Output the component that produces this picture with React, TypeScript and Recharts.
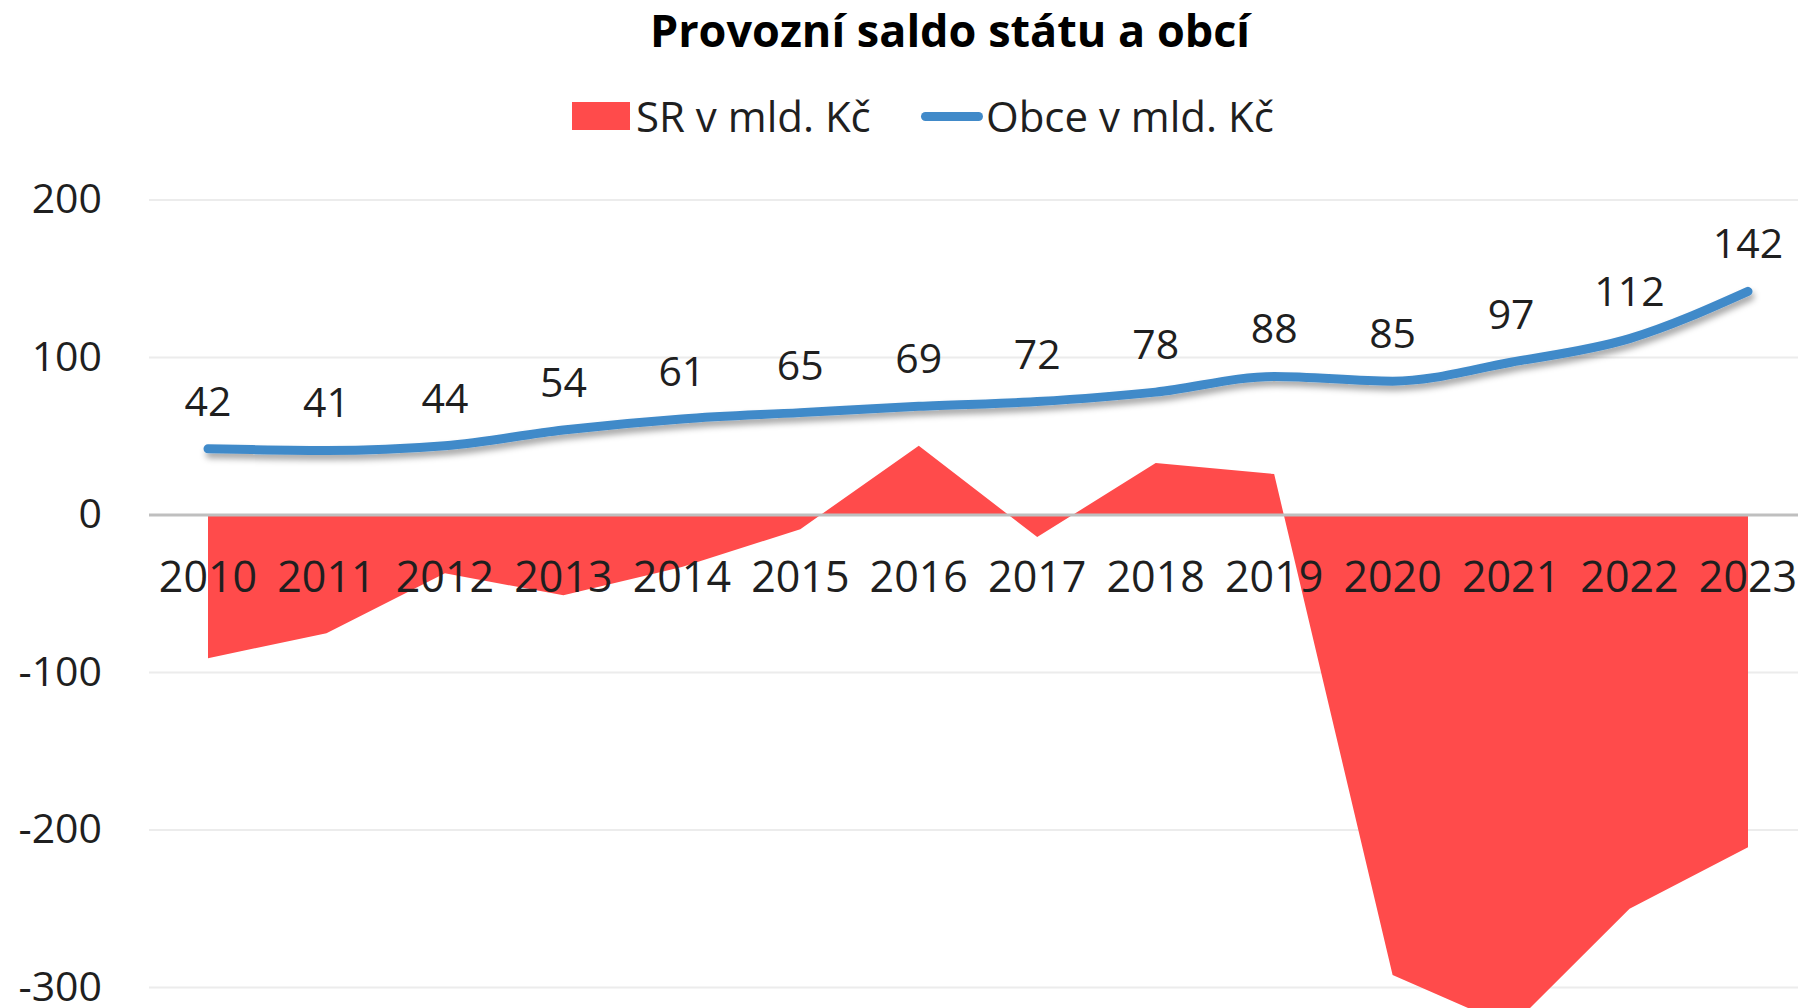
import React from 'react';
import { ComposedChart, Area, Line, XAxis, YAxis, CartesianGrid, ReferenceLine, LabelList } from 'recharts';

const years = ['2010', '2011', '2012', '2013', '2014', '2015', '2016', '2017', '2018', '2019', '2020', '2021', '2022', '2023'];
const srValues = [-91, -75, -37, -51, -33, -9, 44, -14, 33, 26, -292, -325, -250, -211];
const obceValues = [42, 41, 44, 54, 61, 65, 69, 72, 78, 88, 85, 97, 112, 142];
const yTicks = [-400, -300, -200, -100, 0, 100, 200];

const FONT = "'Open Sans', sans-serif";
const RED = '#FF4B4B';
const BLUE = '#418AC9';
const TEXT = '#1f1f1f';

const data = years.map((year, i) => ({
  year,
  sr: srValues[i],
  obce: obceValues[i],
}));

const ValueLabel = (props: any) => {
  const x = props.x ?? props.viewBox?.x;
  const y = props.y ?? props.viewBox?.y;
  return (
    <text x={x} y={y - 49} textAnchor="middle" dominantBaseline="central" fill={TEXT} fontSize={41} fontFamily={FONT}>
      {props.value}
    </text>
  );
};

const YearLabel = (props: any) => {
  const x = props.x ?? props.viewBox?.x;
  const y = props.y ?? props.viewBox?.y;
  return (
    <text x={x} y={y + 60} textAnchor="middle" dominantBaseline="central" fill={TEXT} fontSize={43} fontFamily={FONT}>
      {props.value}
    </text>
  );
};

const YTick = (props: any) => (
  <text x={props.x} y={props.y - 3} textAnchor="end" dominantBaseline="central" fill={TEXT} fontSize={41} fontFamily={FONT}>
    {props.payload.value}
  </text>
);

export default function App() {
  return (
    <div style={{ position: 'fixed', top: 0, left: 0, width: 1798, height: 1008, overflow: 'hidden', background: '#fff', fontFamily: FONT }}>
      <div style={{ position: 'absolute', top: 2, left: 450, width: 1000, height: 56, lineHeight: '56px', textAlign: 'center', fontSize: 45, fontWeight: 700, color: '#000' }}>
        Provozní saldo státu a obcí
      </div>

      {/* legend */}
      <div style={{ position: 'absolute', left: 572, top: 102, width: 58, height: 28, background: RED }} />
      <div style={{ position: 'absolute', left: 636, top: 86, height: 60, lineHeight: '60px', fontSize: 42, color: TEXT, whiteSpace: 'nowrap' }}>SR v mld. Kč</div>
      <div style={{ position: 'absolute', left: 921, top: 112, width: 62, height: 9, borderRadius: 4.5, background: BLUE }} />
      <div style={{ position: 'absolute', left: 986, top: 86, height: 60, lineHeight: '60px', fontSize: 42, color: TEXT, whiteSpace: 'nowrap' }}>Obce v mld. Kč</div>

      <div style={{ position: 'absolute', top: 0, left: 0 }}>
        <ComposedChart width={1807} height={1145} data={data} margin={{ top: 200, right: 0, bottom: 0, left: 0 }}>
          <defs>
            <filter id="lineShadow" x="-5%" y="-50%" width="110%" height="200%">
              <feDropShadow dx="2" dy="5" stdDeviation="3" floodColor="#000" floodOpacity="0.35" />
            </filter>
          </defs>
          <CartesianGrid vertical={false} stroke="#ececec" strokeWidth={2} />
          <XAxis dataKey="year" hide padding={{ left: 59, right: 59 }} />
          <YAxis
            domain={[-400, 200]}
            ticks={yTicks}
            width={149}
            axisLine={false}
            tickLine={false}
            tickSize={0}
            tickMargin={47}
            tick={YTick}
          />
          <Area
            type="linear"
            dataKey="sr"
            baseValue={0}
            stroke="none"
            fill={RED}
            fillOpacity={1}
            isAnimationActive={false}
          />
          <ReferenceLine y={0} stroke="#bfbfbf" strokeWidth={3} />
          <Line
            dataKey={() => 0}
            stroke="none"
            dot={false}
            activeDot={false}
            legendType="none"
            isAnimationActive={false}
          >
            <LabelList dataKey="year" content={YearLabel} />
          </Line>
          <Line
            type="monotone"
            dataKey="obce"
            stroke={BLUE}
            strokeWidth={9}
            strokeLinecap="round"
            dot={false}
            activeDot={false}
            filter="url(#lineShadow)"
            isAnimationActive={false}
          >
            <LabelList dataKey="obce" content={ValueLabel} />
          </Line>
        </ComposedChart>
      </div>
    </div>
  );
}
